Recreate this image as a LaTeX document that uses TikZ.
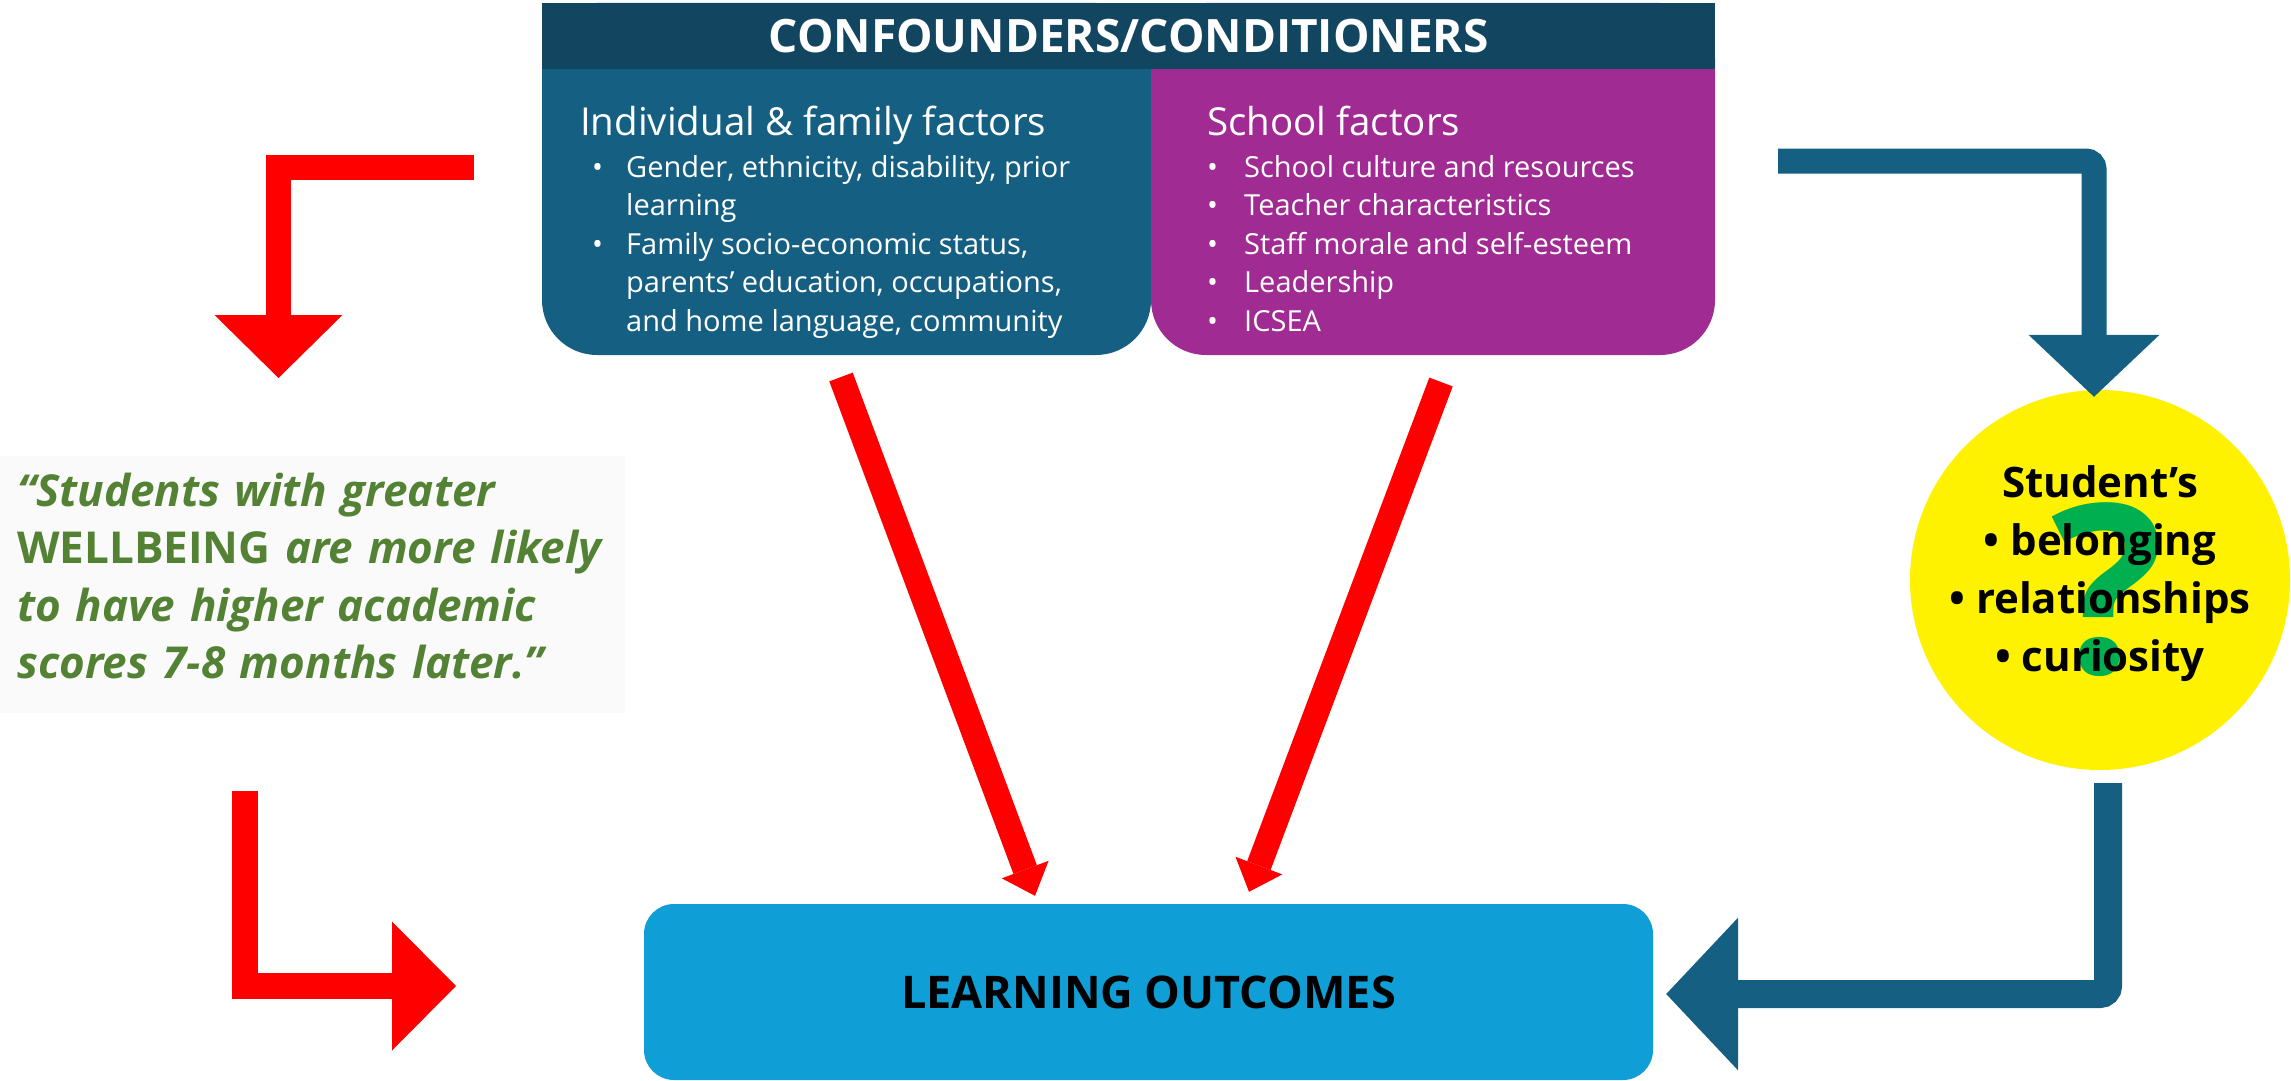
\documentclass[tikz,border=0pt]{standalone}
\usepackage{fontspec}
\setmainfont{Open Sans}
\usetikzlibrary{arrows.meta}

\definecolor{hdrblue}{HTML}{124660}
\definecolor{indivblue}{HTML}{156082}
\definecolor{schoolpurple}{HTML}{A02B93}
\definecolor{outcomeblue}{HTML}{0F9ED5}
\definecolor{quotegreen}{HTML}{548235}
\definecolor{qmarkgreen}{HTML}{00B050}

\newcommand{\fsz}[2]{\fontsize{#1}{#2}\selectfont}

\begin{document}
\begin{tikzpicture}[x=1pt, y=-1pt,
	factorbox/.style={anchor=north west, rounded corners=55pt, minimum height=352pt, inner sep=0pt, outer sep=0pt},
	boxtitle/.style={anchor=base west, inner sep=0pt, text=white, font=\fsz{38.5}{44}},
	boxlist/.style={anchor=north west, inner sep=0pt, text=white, align=left, font=\fsz{29}{38.5}},
	redarrow/.style={draw=red, line width=25pt, line join=miter},
	bluearrow/.style={draw=indivblue, line width=25pt, rounded corners=8pt}]
	\useasboundingbox (0,0) rectangle (2291,1081);

	% Confounders / conditioners
	\node[factorbox, fill=indivblue, minimum width=609pt] (indivbox) at (542,3) {};
	\node[factorbox, fill=schoolpurple, minimum width=564pt] (schoolbox) at (1151,3) {};
	\node[anchor=north west, fill=hdrblue, minimum width=1173pt, minimum height=66pt, inner sep=0pt,
		text=white, font=\fsz{46}{50}\bfseries] (hdr) at (542,3) {CONFOUNDERS/CONDITIONERS};

	% Individual & family factors
	\node[boxtitle] (indivtitle) at (580,135.5) {Individual \& family factors};
	\node[boxlist] (indivlist) at (592,155) {\makebox[34pt][l]{•}Gender, ethnicity, disability, prior\\
		\hspace*{34pt}learning\\
		\makebox[34pt][l]{•}Family socio-economic status,\\
		\hspace*{34pt}parents’ education, occupations,\\
		\hspace*{34pt}and home language, community};

	% School factors
	\node[boxtitle] (schooltitle) at (1207,135) {School factors};
	\node[boxlist] (schoollist) at (1207,155) {\makebox[37pt][l]{•}School culture and resources\\
		\makebox[37pt][l]{•}Teacher characteristics\\
		\makebox[37pt][l]{•}Staff morale and self-esteem\\
		\makebox[37pt][l]{•}Leadership\\
		\makebox[37pt][l]{•}ICSEA};

	% Student's wellbeing
	\node[circle, fill=yellow, minimum size=380pt, inner sep=0pt, align=center, text depth=22pt, font=\fsz{42}{58}\bfseries,
		path picture={\node[rectangle, minimum size=0pt, inner sep=0pt, text depth=0pt, text=qmarkgreen, font=\fsz{236}{236}\bfseries]
			(qmark) at ([shift={(8,8)}]path picture bounding box.center) {?};}]
		(circ) at (2100,580) {Student’s\\ • belonging\\ • relationships\\ • curiosity};

	% Quote
	\node[anchor=north west, fill=black!2, minimum width=625pt, minimum height=257pt, inner xsep=17pt,
		text width=591pt, align=left, text=quotegreen, font=\fsz{44}{57.5}\bfseries\itshape]
		(quote) at (0,456) {“Students with greater\\ {\upshape WELLBEING} are more likely\\ to have higher academic\\ scores 7-8 months later.”\rule[-18pt]{0pt}{0pt}};

	% Learning outcomes
	\node[fill=outcomeblue, rounded corners=30pt, minimum width=1009pt, minimum height=176pt,
		font=\fsz{45}{50}\bfseries] (lo) at (1148.5,992) {LEARNING OUTCOMES};

	% Red arrows
	\coordinate (wbstart) at (474,167.5);
	\coordinate (wbend) at (278.5,378);
	\draw[redarrow, -{Triangle[width=128pt,length=63pt,line width=0pt]}] (wbstart) -| (wbend);

	\coordinate (quoteout) at (245,791);
	\coordinate (quoteend) at (456,986);
	\draw[redarrow, line width=26pt, -{Triangle[width=129pt,length=64pt,line width=0pt]}] (quoteout) |- (quoteend);

	\draw[redarrow, -{Triangle[width=50pt,length=28pt,line width=0pt]}] ([shift={(-5.5,22)}]indivbox.south) -- ([shift={(-113.5,-8)}]lo.north);
	\draw[redarrow, -{Triangle[width=50pt,length=28pt,line width=0pt]}] ([shift={(8,27)}]schoolbox.south) -- ([shift={(100.5,-12)}]lo.north);

	% Blue arrows
	\coordinate (circin) at (1778,161);
	\draw[bluearrow, -{Triangle[width=131pt,length=62pt,line width=0pt]}] (circin) -| ([shift={(-6,7)}]circ.north);
	\draw[bluearrow, line width=28pt, -{Triangle[width=153pt,length=72pt,line width=0pt]}] ([shift={(8,13)}]circ.south) |- ([shift={(13,2)}]lo.east);
\end{tikzpicture}
\end{document}
